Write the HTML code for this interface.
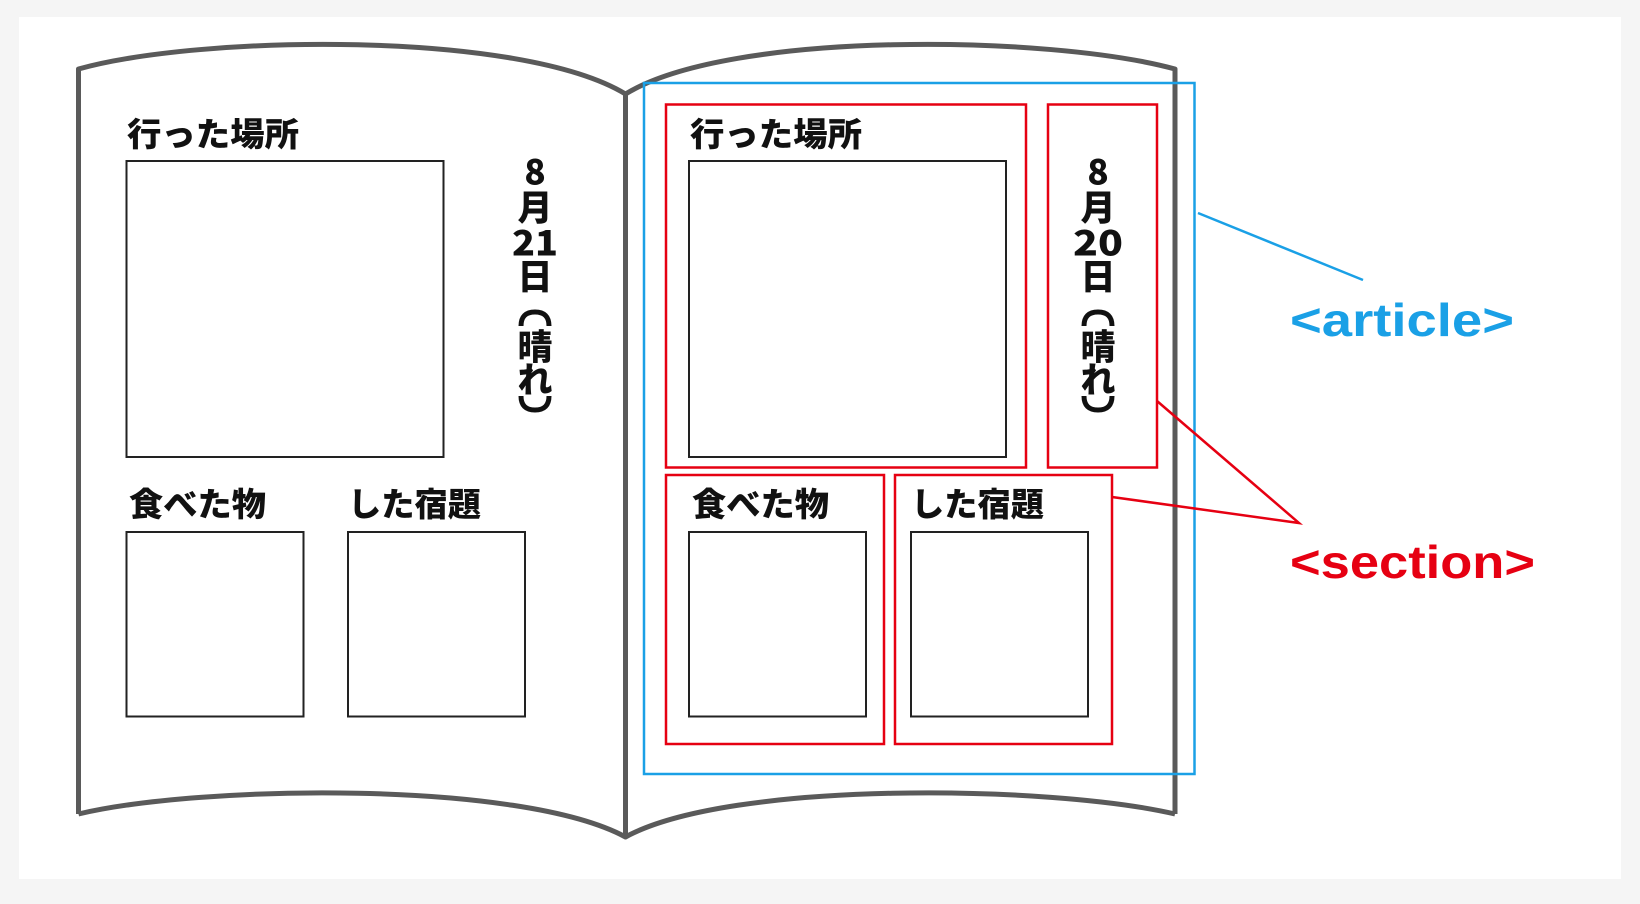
<!DOCTYPE html>
<html><head><meta charset="utf-8"><style>
html,body{margin:0;padding:0;background:#f5f5f5;}
svg{display:block;}
text{font-family:"Liberation Sans","Noto Sans CJK JP",sans-serif;font-weight:bold;}
.j{font-family:"Noto Sans CJK JP","Liberation Sans",sans-serif;font-weight:900;font-size:33px;fill:#111;}
.d{font-family:"Noto Sans CJK JP","Liberation Sans",sans-serif;font-weight:900;font-size:35px;fill:#111;text-anchor:middle;dominant-baseline:central;}
</style></head><body>
<svg width="1640" height="904" viewBox="0 0 1640 904" xmlns="http://www.w3.org/2000/svg">
<rect x="0" y="0" width="1640" height="904" fill="#f5f5f5"/>
<rect x="19" y="17" width="1602" height="862" fill="#fff"/>
<g fill="none" stroke="#5a5a5a" stroke-width="5" stroke-linejoin="round">
<path d="M78.5,814 L78.5,69 C200,35 520,30 625.5,94 C730,30 1050,35 1175,69 L1175,814"/>
<path d="M78.5,814 C200,785 520,780 625.5,837 C730,780 1050,785 1175,814"/>
<path d="M625.5,94 L625.5,837"/>
</g>
<g fill="none" stroke="#222" stroke-width="2">
<rect x="126.5" y="161" width="317" height="296"/>
<rect x="126.5" y="532" width="177" height="184.5"/>
<rect x="348" y="532" width="177" height="184.5"/>
<rect x="689" y="161" width="317" height="296"/>
<rect x="689" y="532" width="177" height="184.5"/>
<rect x="911" y="532" width="177" height="184.5"/>
</g>
<text class="j" x="127" y="146" textLength="172" lengthAdjust="spacingAndGlyphs">行った場所</text>
<text class="j" x="129" y="516" textLength="137" lengthAdjust="spacingAndGlyphs">食べた物</text>
<text class="j" x="348" y="516" textLength="133" lengthAdjust="spacingAndGlyphs">した宿題</text>
<text class="j" x="690" y="146" textLength="172" lengthAdjust="spacingAndGlyphs">行った場所</text>
<text class="j" x="692" y="516" textLength="137" lengthAdjust="spacingAndGlyphs">食べた物</text>
<text class="j" x="911" y="516" textLength="133" lengthAdjust="spacingAndGlyphs">した宿題</text>
<!-- left date -->
<text class="d" x="535" y="170">8</text>
<text class="d" x="535" y="206">月</text>
<text class="d" x="535" y="241" textLength="46" lengthAdjust="spacingAndGlyphs">21</text>
<text class="d" x="535" y="275">日</text>
<path d="M521,326 Q521,312 535,312 Q549,312 549,326" fill="none" stroke="#111" stroke-width="5"/>
<text class="d" x="535" y="345">晴</text>
<text class="d" x="535" y="378">れ</text>
<path d="M521,396 Q521,410 535,410 Q549,410 549,396" fill="none" stroke="#111" stroke-width="5"/>
<!-- right date -->
<text class="d" x="1098" y="170">8</text>
<text class="d" x="1098" y="206">月</text>
<text class="d" x="1098" y="241" textLength="50" lengthAdjust="spacingAndGlyphs">20</text>
<text class="d" x="1098" y="275">日</text>
<path d="M1084,326 Q1084,312 1098,312 Q1112,312 1112,326" fill="none" stroke="#111" stroke-width="5"/>
<text class="d" x="1098" y="345">晴</text>
<text class="d" x="1098" y="378">れ</text>
<path d="M1084,396 Q1084,410 1098,410 Q1112,410 1112,396" fill="none" stroke="#111" stroke-width="5"/>
<rect x="644" y="83" width="550.5" height="691" fill="none" stroke="#1aa0e6" stroke-width="2.5"/>
<line x1="1198" y1="213" x2="1363" y2="280" stroke="#1aa0e6" stroke-width="2.5"/>
<text x="1290" y="336" font-size="46" fill="#1aa0e6" textLength="224" lengthAdjust="spacingAndGlyphs">&lt;article&gt;</text>
<g fill="none" stroke="#e60012" stroke-width="2.5">
<rect x="666" y="104.5" width="360" height="363"/>
<rect x="1048" y="104.5" width="109" height="363"/>
<rect x="666" y="475" width="218" height="269"/>
<rect x="895" y="475" width="217" height="269"/>
<path d="M1157,401 L1299,523 L1112,497"/>
</g>
<text x="1290" y="578" font-size="46" fill="#e60012" textLength="245" lengthAdjust="spacingAndGlyphs">&lt;section&gt;</text>
</svg>
</body></html>
